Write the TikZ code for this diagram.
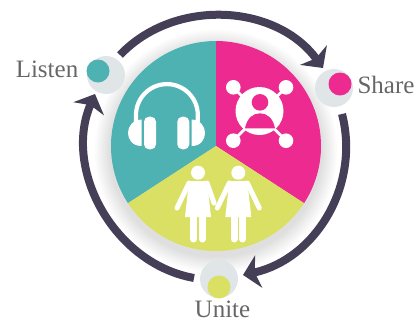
\documentclass[tikz,border=0pt]{standalone}
\usepackage{fontspec}
\setmainfont{Liberation Serif}
\usetikzlibrary{arrows.meta}
\definecolor{tealpie}{HTML}{4EB1B2}
\definecolor{pinkpie}{HTML}{EC2A90}
\definecolor{yellowpie}{HTML}{D9E063}
\definecolor{ringdark}{HTML}{443F56}
\definecolor{halogray}{HTML}{E0E5E8}
\definecolor{labelgray}{HTML}{666666}
\tikzset{
  ringarrow/.style={draw=ringdark, line width=8pt, -{Stealth[length=16pt,width=33pt,inset=4pt]}},
  ringtail/.style={looseness=1.0},
  halo/.style={circle, fill=halogray, minimum size=38pt, inner sep=0pt},
  statedot/.style={circle, minimum size=23pt, inner sep=0pt},
  statelabel/.style={text=labelgray, font=\fontsize{25}{25}\selectfont, inner sep=0pt, anchor=base},
  iconline/.style={draw=white, line cap=round}
}
\begin{document}
\begin{tikzpicture}[x=1pt, y=-1pt]
  \useasboundingbox (0,0) rectangle (419,322);
  \coordinate (pc) at (216,146);

  \foreach \r in {107,109,...,121}
    \fill[black, opacity=0.014] (216,151) circle (\r);

  \fill[tealpie] (pc) -- ++(147:105) arc[start angle=147, end angle=270, radius=105] -- cycle;
  \fill[pinkpie] (pc) -- ++(-90:105) arc[start angle=-90, end angle=33, radius=105] -- cycle;
  \fill[yellowpie] (pc) -- ++(33:105) arc[start angle=33, end angle=147, radius=105] -- cycle;

  \coordinate (listenout) at (120,55);
  \coordinate (sharein) at (323,68);
  \coordinate (shareout) at (342,114);
  \coordinate (unitein) at (243,275);
  \coordinate (uniteout) at (194,278);
  \coordinate (listenin) at (95,94);
  \draw[ringarrow] (listenout) to[bend left=50, ringtail] (sharein);
  \draw[ringarrow] (shareout) to[bend left=46, ringtail] (unitein);
  \draw[ringarrow] (uniteout) to[bend left=51.5, ringtail] (listenin);

  \node[halo] (listenhalo) at (106,75) {};
  \node[halo] (sharehalo) at (334,88) {};
  \node[halo] (unitehalo) at (219,279) {};
  \node[statedot, fill=tealpie] (listendot) at (98,71) {};
  \node[statedot, fill=pinkpie] (sharedot) at (340,84) {};
  \node[statedot, fill=yellowpie] (unitedot) at (219,287) {};

  \node[statelabel] (listenlabel) at (47,77) {Listen};
  \node[statelabel] (sharelabel) at (386,93) {Share};
  \node[statelabel] (unitelabel) at (222.5,317) {Unite};

  \draw[draw=white, line width=4.2pt] (136,124) -- (136,115) arc[start angle=180, end angle=360, radius=30.9] -- (197.8,124);
  \fill[white, rounded corners=5pt] (144,116.7) rectangle (156,149.3);
  \fill[white, rounded corners=5pt] (177.3,116.7) rectangle (189.3,149.3);
  \fill[white] (141.7,119.5) .. controls (132,120) and (128,127) .. (128,133) .. controls (128,139) and (132,146) .. (141.7,146) -- cycle;
  \fill[white] (191.7,119.5) .. controls (201,120) and (205,127) .. (205,133) .. controls (205,139) and (201,146) .. (191.7,146) -- cycle;

  \draw[iconline, line width=2.8pt] (233.3,87.3) -- (286,140.7);
  \draw[iconline, line width=2.8pt] (286,87.3) -- (233.3,140.7);
  \fill[white] (233.3,87.3) circle (7.3);
  \fill[white] (286,87.3) circle (7.3);
  \fill[white] (233.3,140.7) circle (7.3);
  \fill[white] (286,140.7) circle (7.3);
  \fill[white] (259.5,111) circle (24);
  \fill[pinkpie] (260,102.3) circle (8.3);
  \fill[pinkpie] (245,128.3) .. controls (247,118) and (253,113.3) .. (260,113.3) .. controls (267,113.3) and (273,118) .. (275,128.3) -- cycle;

  \foreach \wx in {0,40.3} {
    \begin{scope}[xshift=\wx pt]
      \fill[white] (198,172.7) circle (7);
      \fill[white, line join=round] (189,181) -- (207,181) -- (211,217) -- (185,217) -- cycle;
      \draw[iconline, line width=5pt] (189,183) -- (177,208);
      \draw[iconline, line width=7pt] (193.7,217) -- (193.7,239);
      \draw[iconline, line width=7pt] (202.3,217) -- (202.3,239);
    \end{scope}
  }
  \draw[iconline, line width=5pt] (207,183) -- (214,203);
  \draw[iconline, line width=5pt] (247.3,183) -- (259.3,208);
\end{tikzpicture}
\end{document}
